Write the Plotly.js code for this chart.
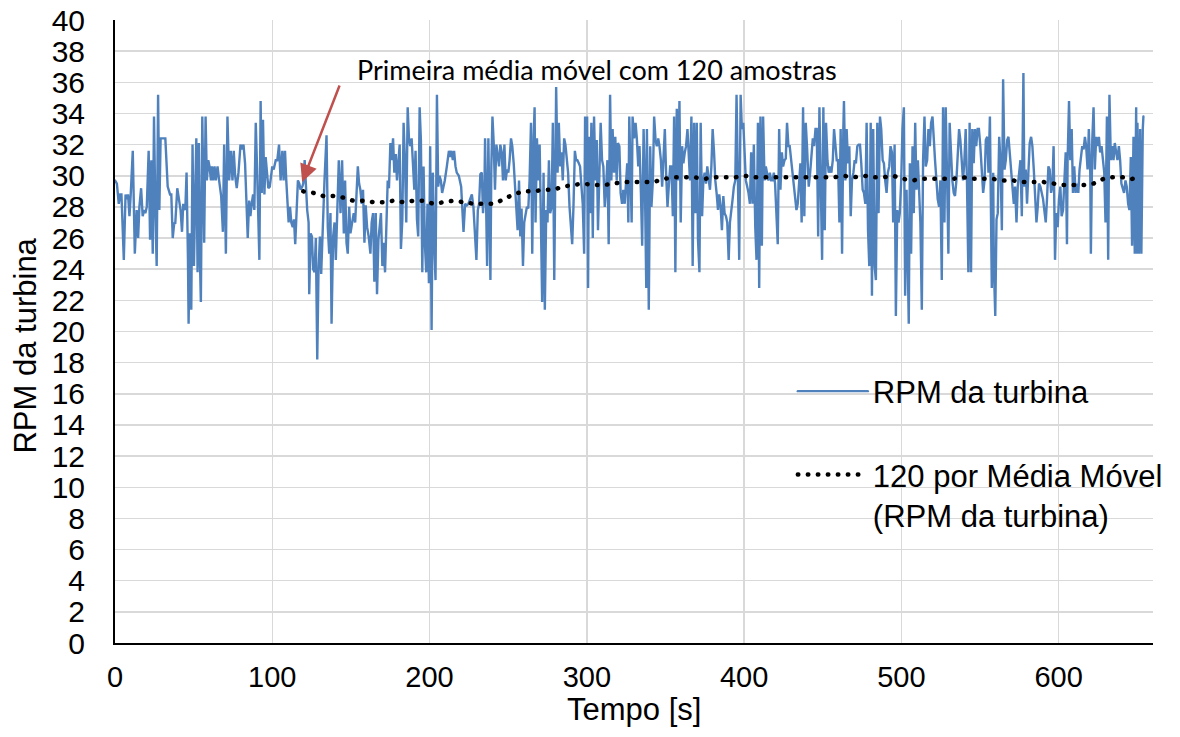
<!DOCTYPE html>
<html>
<head>
<meta charset="utf-8">
<script src="https://cdn.plot.ly/plotly-3.0.1.min.js"></script>
<style>
  html, body { margin: 0; padding: 0; background: #fff; }
  #chart { width: 1180px; height: 737px; }
  .scatterlayer .js-line, .legendlines path { stroke-linecap: round; }
</style>
</head>
<body>
<div id="chart"></div>
<script>
// Time (s) of the RPM samples
const tempo = [
0,1.2,2.4,3.3,4.1,5.0,5.6,6.7,7.5,8.3,9.2,10.0,11.3,12.6,13.8,14.7,15.5,16.6,17.6,18.5,19.3,20.2,21.4,22.3,23.1,24.0,24.8,25.7,26.5,27.4,28.2,29.0,32.0,33.5,35.0,35.8,36.7,37.7,38.3,39.6,40.9,41.7,42.6,43.4,44.7,45.5,46.4,46.8,47.6,48.5,49.3,50.2,51.0,51.7,52.5,53.3,54.0,54.6,55.5,56.3,56.7,57.6,58.4,59.3,60.1,61.0,61.6,62.4,63.3,64.1,65.2,66.2,67.5,68.6,69.4,70.5,71.5,72.6,73.6,74.7,75.5,76.4,77.4,78.5,79.8,80.6,81.7,82.7,83.6,84.4,85.3,86.1,86.9,87.8,88.6,89.5,90.3,91.2,91.8,92.6,93.3,94.1,95.0,95.8,96.7,97.5,98.4,99.2,100.0,100.9,102.2,103.2,104.3,105.3,106.4,107.2,108.1,108.9,
110.4,111.3,112.1,113.0,113.8,114.6,115.5,116.3,117.2,118.0,119.1,119.7,120.6,121.4,122.2,123.1,123.5,124.4,125.2,126.0,126.9,127.7,128.6,129.4,130.3,131.1,132.4,133.2,134.5,135.3,136.2,137.0,137.7,138.7,139.6,140.4,141.3,142.3,143.4,144.4,145.5,146.3,147.2,148.0,148.9,149.7,150.8,151.8,152.7,153.5,154.4,155.2,156.0,156.9,157.7,158.6,159.4,160.3,161.3,162.4,163.2,164.1,164.9,165.8,166.6,167.5,168.3,169.1,170.0,170.8,171.7,172.5,173.4,174.2,175.1,175.9,176.8,177.6,178.5,179.3,180.1,181.0,181.8,182.7,183.5,184.4,185.2,186.1,186.9,187.7,188.6,189.4,190.3,191.1,192.0,192.8,193.7,194.5,195.4,196.2,197.0,197.9,198.7,199.6,200.4,201.3,202.1,203.0,203.8,204.7,205.5,206.3,207.2,208.0,208.9,209.7,211.0,212.3,213.1,213.9,214.8,215.6,216.5,217.3,218.6,
220.1,221.6,222.6,223.7,224.7,225.8,226.9,227.9,229.0,229.8,230.7,231.5,232.3,233.2,234.0,234.9,235.3,236.1,236.6,237.4,238.1,238.7,239.3,240.0,240.8,241.6,242.5,243.3,244.2,245.0,245.9,246.7,247.6,248.4,249.3,250.1,250.9,251.8,252.6,253.5,254.3,255.2,256.0,256.9,257.7,258.5,259.4,260.2,261.1,261.9,262.8,263.6,264.5,265.3,266.2,266.8,267.4,268.3,269.1,270.0,270.8,271.6,272.5,273.3,274.2,275.0,275.9,276.7,277.6,278.4,279.3,279.9,280.5,281.4,282.2,283.1,283.9,284.7,285.6,286.4,287.3,288.1,289.0,289.8,290.7,291.5,292.4,293.2,294.0,294.9,295.7,296.6,297.4,298.3,298.9,299.5,300.2,300.8,301.4,302.1,302.9,303.8,304.6,305.5,306.3,307.1,308.0,308.8,309.7,310.5,311.4,312.2,313.1,313.9,314.8,315.6,316.4,317.3,318.1,319.0,319.8,320.7,321.5,322.4,323.2,324.1,324.9,325.7,326.4,327.0,327.9,328.5,329.1,
330.1,331.0,331.8,332.7,333.5,334.4,335.2,336.1,336.9,337.8,338.2,339.0,339.4,340.3,341.1,342.0,342.8,343.7,344.5,345.4,346.2,347.1,347.9,348.7,349.6,350.4,351.3,352.1,353.0,353.8,354.7,355.5,356.3,357.2,358.0,358.9,359.7,360.6,361.4,362.3,363.1,364.0,364.8,365.6,366.5,367.3,368.2,369.0,369.9,370.7,371.6,372.4,373.3,374.1,374.9,375.8,376.6,377.5,378.3,379.2,380.0,380.9,381.7,382.6,383.4,384.2,385.1,385.9,386.8,387.6,388.5,389.3,390.2,391.0,391.8,392.7,393.5,394.4,395.2,396.1,396.9,397.8,398.6,399.5,400.3,401.1,402.0,402.8,403.7,404.5,405.4,406.2,407.1,407.9,408.8,409.6,410.4,411.3,412.1,413.0,413.8,414.7,415.5,416.4,417.2,418.1,418.9,419.7,420.6,421.4,422.3,423.1,424.0,424.8,425.7,426.5,427.3,428.2,429.0,429.9,430.7,431.6,432.4,433.3,434.1,435.0,435.8,436.6,437.5,438.3,439.2,440.0,
441.1,442.0,442.8,443.7,444.5,445.4,446.2,447.1,447.9,448.8,449.6,450.4,451.3,452.1,453.0,453.8,454.7,455.5,456.4,457.2,458.0,458.9,459.7,460.6,461.4,462.3,463.1,463.5,464.4,465.2,466.1,466.9,467.8,468.6,469.5,470.3,471.1,472.0,472.8,473.7,474.5,475.4,476.2,477.1,477.9,478.8,479.6,480.5,481.3,482.1,483.0,483.8,484.7,485.5,486.4,487.2,488.1,488.9,489.7,490.6,491.4,492.3,493.1,494.0,494.8,495.7,496.5,497.4,498.2,499.0,499.9,500.7,501.6,502.4,503.3,504.1,504.7,505.4,506.2,507.1,507.9,508.8,509.6,510.5,511.3,512.1,513.0,513.8,514.7,515.5,516.4,517.2,518.1,518.9,519.8,520.6,521.4,522.3,523.1,524.0,524.8,525.7,526.5,527.4,528.2,529.1,529.9,530.7,531.6,532.4,533.3,534.1,535.0,535.8,536.7,537.5,538.3,539.2,540.0,540.9,541.7,542.6,543.4,544.3,545.1,546.0,546.8,547.6,548.5,549.3,550.2,551.0,
552.0,552.9,553.7,554.6,555.4,556.3,557.1,557.5,558.4,558.8,559.7,560.5,561.3,562.2,563.0,563.9,564.7,565.6,566.4,567.3,568.1,569.0,569.8,570.6,571.5,572.3,573.2,574.0,574.9,575.7,576.6,577.6,578.2,579.1,579.9,580.8,581.6,582.5,583.3,584.2,585.0,585.9,586.7,587.5,588.4,589.2,590.1,590.9,591.8,592.6,593.5,594.3,595.2,596.0,596.8,597.7,598.5,599.4,600.2,601.1,601.9,602.8,603.6,604.5,605.3,605.7,606.6,607.4,608.3,609.1,609.9,610.8,611.6,612.5,613.3,614.2,615.0,615.9,616.7,617.5,618.4,619.2,620.1,620.5,621.4,622.2,623.0,623.9,624.7,625.6,626.4,627.3,628.1,629.0,629.8,630.7,631.5,632.3,633.2,634.0,634.9,635.7,636.6,637.4,638.3,639.1,639.9,640.8,641.6,642.5,643.3,644.2,645.0,645.9,646.7,647.6,648.4,649.3,649.7,650.1,651.0,651.8,652.6,653.5,653.9
];
// RPM da turbina values
const rpm = [
29.7,29.5,28.2,28.8,28.8,25.5,24.6,28.8,28.5,28.8,27.4,28.8,31.6,25.0,27.8,26.0,28.0,29.2,27.4,27.8,27.6,28.0,31.6,25.9,31.0,25.0,33.8,27.6,24.2,35.2,27.8,32.4,32.4,29.3,28.8,28.8,26.0,27.0,26.9,29.2,28.2,27.8,26.4,28.2,27.8,30.2,24.6,20.5,26.3,21.4,32.0,24.2,28.7,32.4,23.8,32.1,24.6,21.9,33.8,27.2,25.7,33.8,29.7,31.0,30.6,29.7,30.6,29.7,30.6,29.7,30.6,29.7,28.7,26.4,32.0,25.0,33.8,29.7,31.6,29.7,31.6,30.0,29.2,30.2,32.0,31.7,32.0,30.8,28.0,26.0,28.4,27.4,28.2,28.8,27.8,33.4,30.6,27.6,24.6,34.8,28.9,33.6,28.8,31.2,30.2,29.2,29.3,30.2,30.6,30.4,31.0,31.0,32.0,29.7,31.6,29.7,31.6,29.7,
27.0,28.0,27.0,26.7,27.2,25.6,28.0,29.7,29.5,29.1,29.3,29.5,31.0,28.9,27.8,27.0,22.4,26.3,26.1,24.0,23.8,26.0,18.2,23.9,26.1,23.7,28.2,29.7,32.6,26.7,25.0,27.6,20.5,26.1,27.0,24.6,27.6,31.0,27.6,31.0,26.3,29.7,25.7,25.0,28.0,26.3,27.0,27.6,27.0,28.9,30.6,29.5,29.1,28.2,29.1,25.7,28.1,26.7,26.1,25.0,27.0,27.6,23.2,27.6,22.4,25.9,27.0,27.6,24.2,25.7,23.8,26.7,29.7,29.2,32.1,31.0,32.4,30.2,31.4,29.7,30.6,32.0,25.3,27.2,33.4,30.8,27.0,34.4,32.4,31.9,32.4,30.7,29.1,31.6,27.2,26.1,34.4,32.3,23.8,30.6,25.7,23.8,28.2,23.1,31.9,20.1,30.2,25.6,23.3,35.2,29.3,30.0,29.7,28.9,29.3,29.7,30.6,31.6,31.2,31.6,31.0,31.6,30.6,30.2,30.0,
29.3,26.4,28.2,28.1,28.2,28.5,28.8,28.0,26.3,24.6,27.8,28.2,30.1,30.2,27.6,29.1,32.4,26.7,24.2,32.4,27.0,23.3,30.6,33.8,32.1,29.1,32.0,31.2,30.6,32.0,31.5,29.7,32.0,29.7,30.4,30.2,31.0,32.4,31.9,30.8,29.3,27.8,26.5,29.7,26.1,27.9,24.2,27.0,27.6,28.0,27.9,29.7,33.4,25.0,32.5,34.4,27.0,32.4,29.7,32.0,27.2,21.9,30.2,21.4,27.8,27.0,31.0,27.6,28.0,33.4,23.3,33.0,35.7,30.2,33.4,30.6,31.5,29.7,32.4,32.0,31.0,30.2,28.0,27.0,25.6,28.0,31.6,31.0,31.0,30.8,30.6,29.3,28.2,25.0,33.8,29.7,33.8,22.8,32.5,27.6,33.4,26.0,33.8,29.7,32.3,26.5,31.0,33.4,31.0,30.6,28.0,29.1,31.0,25.6,35.2,29.7,33.0,30.2,32.5,29.7,32.1,31.9,28.9,28.2,29.1,28.2,29.5,30.8,27.0,33.8,29.7,27.0,33.8,
32.4,33.4,32.4,30.6,31.9,28.9,25.5,33.0,29.7,22.8,33.0,26.1,21.4,31.9,28.0,29.7,33.8,32.3,31.9,32.4,31.9,31.0,29.3,31.0,33.0,30.2,28.0,29.3,30.6,30.6,27.4,33.8,23.8,34.3,29.7,34.8,27.0,31.9,30.8,31.5,31.9,33.0,31.0,29.7,33.8,24.2,33.4,27.6,33.4,25.9,23.8,33.4,27.4,29.7,30.2,29.5,30.6,29.7,29.1,30.6,33.0,31.5,29.7,28.8,27.8,28.8,28.0,26.5,28.7,27.6,27.4,27.0,24.6,27.0,27.6,28.5,29.3,29.7,35.2,30.6,24.6,35.2,33.0,33.4,31.9,29.7,29.3,28.9,28.2,31.5,28.2,32.0,26.7,24.6,33.4,22.8,33.8,25.5,33.8,29.7,30.6,30.2,29.7,30.2,29.7,29.7,30.2,29.5,27.8,25.6,33.0,29.1,31.5,30.6,31.0,31.1,33.4,31.9,31.9,31.0,30.6,29.7,28.5,27.8,28.2,29.3,30.8,27.0,34.4,27.4,33.4,31.9,
29.3,30.2,31.5,32.4,31.9,33.0,33.0,26.1,34.4,29.7,24.6,34.4,26.5,33.4,31.0,30.2,30.6,30.2,31.0,33.0,31.9,31.0,31.0,27.0,33.0,25.0,33.0,34.8,29.7,33.0,30.8,31.9,27.4,29.7,30.2,31.0,30.8,31.9,32.0,32.0,30.8,29.1,28.9,28.2,33.4,26.5,24.2,33.4,22.3,33.0,24.2,23.3,33.4,27.6,33.8,33.0,31.0,30.8,29.7,28.9,30.2,30.6,31.9,31.5,27.0,32.0,21.0,27.8,27.0,27.6,29.7,33.0,34.4,22.3,29.1,23.3,20.5,30.8,25.0,31.9,27.6,33.4,29.1,31.0,29.3,27.0,21.4,31.0,33.8,30.6,31.0,33.0,31.9,33.4,33.8,31.9,31.0,29.7,28.5,28.0,29.7,23.3,34.4,27.0,34.4,29.7,25.0,33.4,30.8,29.7,28.9,28.7,29.7,31.0,33.0,32.3,31.0,29.7,30.8,33.0,29.7,23.8,33.4,23.8,33.0,30.8,33.0,31.9,33.0,33.0,31.9,30.6,
28.9,29.7,32.3,32.5,30.2,33.8,28.5,22.8,30.2,24.2,21.0,27.2,27.6,32.5,31.0,26.5,36.2,30.4,31.0,32.3,32.5,31.2,30.2,29.3,28.2,29.3,27.0,29.3,30.4,31.0,27.4,36.6,29.3,30.4,28.2,31.0,32.1,32.5,31.9,30.4,28.9,27.0,28.0,29.5,29.3,28.9,28.5,27.8,27.0,28.5,30.6,30.4,28.9,29.3,31.9,24.6,27.6,26.7,28.5,29.3,27.4,27.8,29.3,31.5,25.6,31.0,34.8,31.0,33.0,28.9,30.6,28.9,29.5,28.9,30.4,31.5,31.9,31.7,32.5,31.9,30.4,33.0,30.2,25.0,32.3,34.4,30.4,32.5,31.9,32.5,31.5,31.9,31.0,30.2,27.0,33.8,24.6,35.2,31.0,31.9,31.0,32.1,31.5,31.0,31.9,31.0,29.5,29.1,28.9,29.7,29.3,28.2,27.8,31.2,25.5,32.5,25.0,34.4,25.0,33.4,25.0,33.0,25.0,33.0,33.8
];
// 120-sample moving average
const mmTempo = [119.7,126.0,132.4,138.7,145.1,151.4,157.7,164.5,170.8,177.2,183.5,189.9,196.2,202.5,208.9,215.2,221.6,228.3,234.9,241.2,247.3,253.3,259.6,266.2,272.5,278.8,284.7,290.9,297.6,304.2,310.7,317.3,323.4,329.9,336.3,342.6,349.0,355.5,362.1,368.6,374.9,381.5,387.8,394.4,400.1,406.9,412.8,419.3,425.4,432.0,438.3,444.9,450.9,457.2,463.3,469.9,476.4,482.4,488.5,494.8,500.9,507.3,513.4,519.7,526.3,532.8,539.4,545.5,552.3,558.2,564.3,570.9,577.2,583.7,590.1,596.6,603.0,609.5,615.9,622.2,628.5,634.2,640.8,646.7,652.2];
const mmRpm = [29.0,28.9,28.7,28.7,28.6,28.4,28.4,28.3,28.3,28.4,28.3,28.4,28.4,28.2,28.3,28.4,28.3,28.2,28.2,28.2,28.5,28.8,29.0,29.0,29.1,29.1,29.3,29.4,29.5,29.4,29.4,29.5,29.6,29.6,29.6,29.6,29.8,29.9,29.9,29.9,29.8,29.9,29.9,29.9,30.0,29.9,29.9,29.9,29.9,29.9,29.9,29.9,29.9,29.9,30.0,29.9,30.0,29.9,29.9,30.0,29.8,29.7,29.8,29.8,29.8,29.8,29.9,29.8,29.8,29.8,29.7,29.7,29.6,29.6,29.6,29.5,29.4,29.4,29.4,29.5,29.8,29.9,29.9,29.8,29.9];

const xTicks = [0,100,200,300,400,500,600];
const yTicks = [0,2,4,6,8,10,12,14,16,18,20,22,24,26,28,30,32,34,36,38,40];
const nomeSerie = 'RPM da turbina';
const nomeMedia = '120 por Média Móvel<br>(RPM da turbina)';
const tituloX = 'Tempo [s]';
const tituloY = 'RPM da turbina';
const textoNota = 'Primeira média móvel com 120 amostras';
const notaPos = {x: 306.5, y: 36.85};
const setaPonta = {x: 119, y: 29.6};

const FONT = 'Liberation Sans, Arial, sans-serif';

const traces = [
  {
    x: tempo, y: rpm, type: 'scatter', mode: 'lines', name: nomeSerie,
    line: {color: '#4F81BD', width: 2.4},
    legendgroup: 'a'
  },
  {
    x: mmTempo, y: mmRpm, type: 'scatter', mode: 'lines', name: nomeMedia,
    line: {color: '#000000', width: 4.5, dash: '0.5px,9.5px'},
    legendgroup: 'b'
  }
];

const layout = {
  width: 1180, height: 737,
  margin: {l: 115, r: 23, t: 20, b: 94, pad: 0},
  paper_bgcolor: '#ffffff', plot_bgcolor: '#ffffff',
  font: {family: FONT, size: 30, color: '#000000'},
  showlegend: true,
  xaxis: {
    range: [0, 660], tickvals: xTicks, ticktext: xTicks.map(String),
    showgrid: true, gridcolor: '#d9d9d9', gridwidth: 1.5,
    showline: true, linecolor: '#000000', linewidth: 2, zeroline: false,
    ticks: '', ticklabelstandoff: 7,
    tickfont: {family: FONT, size: 29, color: '#000'}
  },
  yaxis: {
    range: [0, 40], tickvals: yTicks, ticktext: yTicks.map(String),
    showgrid: true, gridcolor: '#d9d9d9', gridwidth: 1.5,
    showline: true, linecolor: '#000000', linewidth: 2, zeroline: false,
    ticks: '', ticklabelstandoff: 22,
    tickfont: {family: FONT, size: 30, color: '#000'}
  },
  legend: {
    x: 0.653, xanchor: 'left', y: 0.447, yanchor: 'top',
    bgcolor: 'rgba(0,0,0,0)', borderwidth: 0,
    font: {family: FONT, size: 31, color: '#000'},
    itemwidth: 70, traceorder: 'grouped', tracegroupgap: 40, valign: 'top'
  },
  annotations: [
    {
      x: 0.5, y: -0.106, xref: 'paper', yref: 'paper', text: tituloX,
      showarrow: false, xanchor: 'center', yanchor: 'middle',
      font: {family: FONT, size: 31, color: '#000'}
    },
    {
      x: -0.0864, y: 0.478, xref: 'paper', yref: 'paper', text: tituloY,
      showarrow: false, xanchor: 'center', yanchor: 'middle', textangle: -90,
      font: {family: FONT, size: 31, color: '#000'}
    },
    {
      x: notaPos.x, y: notaPos.y, xref: 'x', yref: 'y', text: textoNota,
      showarrow: false, xanchor: 'center', yanchor: 'middle',
      font: {family: 'Lato, Open Sans, sans-serif', size: 27, color: '#000'}
    },
    {
      x: setaPonta.x, y: setaPonta.y, xref: 'x', yref: 'y', text: '',
      showarrow: true, ax: 38, ay: -98, arrowcolor: '#C0504D',
      arrowwidth: 2.5, arrowhead: 2, arrowsize: 1.4, standoff: 0
    }
  ]
};

Plotly.newPlot('chart', traces, layout, {displayModeBar: false, staticPlot: true});
</script>
</body>
</html>
